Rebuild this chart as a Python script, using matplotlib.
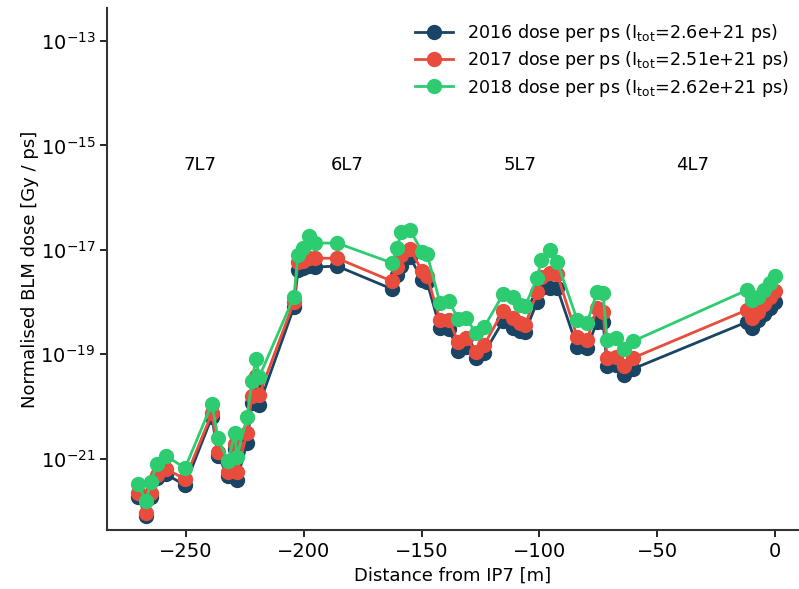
import numpy as np
import matplotlib
matplotlib.use("Agg")
import matplotlib.pyplot as plt

plt.rcParams['font.family'] = ['DejaVu Sans']
plt.rcParams['mathtext.default'] = 'regular'

# BLM positions (distance from IP7, m)
distance_m = [-270.4, -267.0, -264.9, -262.3, -258.5, -250.4, -239.0, -236.4, -232.2, -229.2,
              -228.4, -224.1, -222.0, -220.3, -219.0,
              -204.2, -202.5, -200.3, -197.8, -195.2, -185.9, -162.6, -160.4, -158.7, -154.9,
              -149.8, -147.7, -142.2, -138.4, -134.5, -131.2, -126.9, -123.5,
              -115.4, -111.2, -108.2, -106.1, -101.0, -99.3, -95.5, -92.5, -84.0, -79.8,
              -75.6, -73.0, -71.3, -67.5, -64.1, -60.3,
              -11.9, -9.8, -7.2, -4.7, -2.1, 0.0]

# log10 of normalised dose [Gy/ps]
log_dose_2016 = [-21.74, -22.10, -21.74, -21.37, -21.30, -21.51, -20.20, -20.95, -21.33, -20.82,
                 -21.41, -20.70, -19.93, -19.59, -19.97,
                 -18.10, -17.39, -17.35, -17.31, -17.33, -17.31, -17.75, -17.48, -17.30, -17.14,
                 -17.58, -17.62, -18.50, -18.52, -18.94, -18.86, -19.07, -18.98,
                 -18.36, -18.50, -18.56, -18.57, -18.00, -17.73, -17.73, -17.73, -18.86, -18.88,
                 -18.38, -18.38, -19.23, -19.21, -19.40, -19.28,
                 -18.38, -18.50, -18.34, -18.23, -18.11, -18.00]
log_dose_2017 = [-21.66, -22.04, -21.66, -21.31, -21.20, -21.39, -20.13, -20.87, -21.26, -20.72,
                 -21.26, -20.51, -19.80, -19.42, -19.78,
                 -18.00, -17.23, -17.21, -17.16, -17.16, -17.16, -17.60, -17.33, -17.10, -16.98,
                 -17.41, -17.50, -18.34, -18.34, -18.77, -18.69, -18.96, -18.82,
                 -18.17, -18.31, -18.40, -18.44, -17.81, -17.52, -17.44, -17.46, -18.67, -18.73,
                 -18.11, -18.19, -19.07, -19.05, -19.23, -19.07,
                 -18.15, -18.31, -18.19, -18.04, -17.90, -17.79]
log_dose_2018 = [-21.49, -21.81, -21.45, -21.10, -20.95, -21.18, -19.95, -20.61, -21.05, -20.51,
                 -20.97, -20.20, -19.51, -19.09, -19.44,
                 -17.90, -17.10, -16.97, -16.74, -16.87, -16.87, -17.25, -16.97, -16.66, -16.62,
                 -17.04, -17.08, -18.02, -17.98, -18.33, -18.31, -18.59, -18.48,
                 -17.85, -17.90, -18.06, -18.08, -17.54, -17.20, -17.00, -17.23, -18.34, -18.40,
                 -17.81, -17.83, -18.73, -18.69, -18.90, -18.75,
                 -17.77, -17.96, -17.90, -17.77, -17.64, -17.50]

series_labels = [r'2016 dose per ps (I$_{tot}$=2.6e+21 ps)',
                 r'2017 dose per ps (I$_{tot}$=2.51e+21 ps)',
                 r'2018 dose per ps (I$_{tot}$=2.62e+21 ps)']
series_colors = ['#1a4464', '#e74c3c', '#2ecc71']

region_labels = ['7L7', '6L7', '5L7', '4L7']
region_x = [-244, -181.7, -108.2, -35.2]

fig = plt.figure(figsize=(7.99, 5.89), dpi=100)
ax = fig.add_axes([0.134, 0.100, 0.865, 0.886])

for logs, lab, col in zip([log_dose_2016, log_dose_2017, log_dose_2018], series_labels, series_colors):
    ax.plot(distance_m, 10.0 ** np.array(logs), '-o', color=col, lw=2, ms=10, label=lab)

ax.set_yscale('log')
ax.set_xlim(-283.5, 9.8)
ax.set_ylim(10 ** -22.37, 10 ** -12.37)
ax.set_yticks([1e-21, 1e-19, 1e-17, 1e-15, 1e-13])
ax.yaxis.set_minor_locator(matplotlib.ticker.NullLocator())
ax.set_xticks([-250, -200, -150, -100, -50, 0])
ax.tick_params(labelsize=14, length=5, width=1.2)

for s in ['top', 'right']:
    ax.spines[s].set_visible(False)
for s in ['left', 'bottom']:
    ax.spines[s].set_linewidth(1.5)
    ax.spines[s].set_color('#333333')

for lab, xv in zip(region_labels, region_x):
    ax.text(xv, 10 ** -15.38, lab, ha='center', va='center', fontsize=13)

ax.set_xlabel('Distance from IP7 [m]', fontsize=13)
ax.set_ylabel('Normalised BLM dose [Gy / ps]', fontsize=13, labelpad=1)

ax.legend(loc='upper right', bbox_to_anchor=(1.0, 0.992), frameon=False, fontsize=12.6,
          borderaxespad=0.15, labelspacing=0.3, handlelength=2.17, handletextpad=0.8)

fig.savefig('out.png', dpi=100)
